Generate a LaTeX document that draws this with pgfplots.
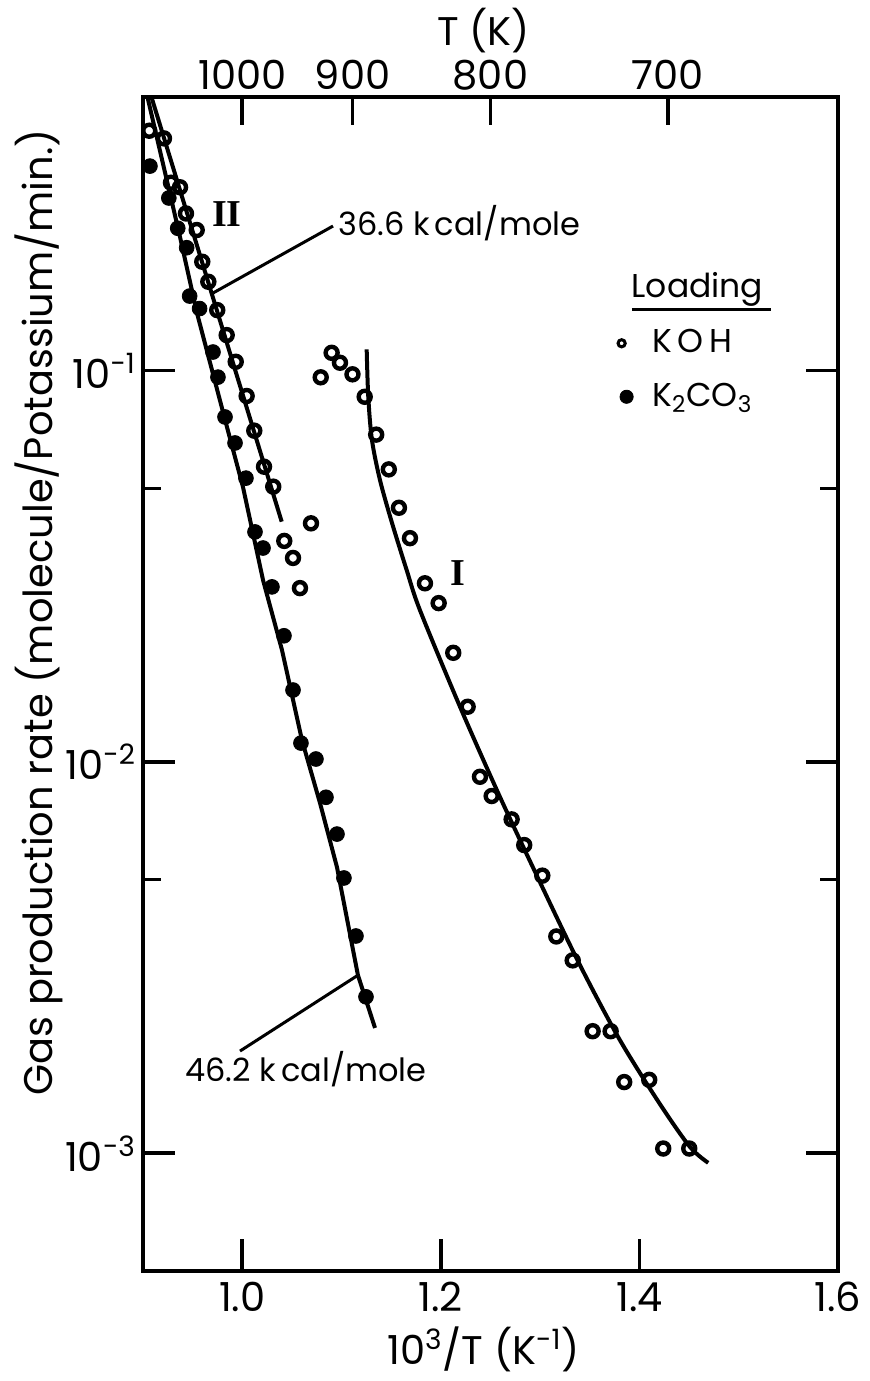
\documentclass[border=0pt]{standalone}
\usepackage{fontspec}
\setmainfont{Poppins}
\newfontfamily\seriffont{Liberation Serif}
\usepackage{pgfplots}
\pgfplotsset{compat=1.18}
\usetikzlibrary{calc}

\newcommand{\tickfont}{\fontsize{20}{23}\selectfont}
\newcommand{\labfont}{\fontsize{20}{24}\selectfont}
\newcommand{\annfont}{\fontsize{16}{19}\selectfont}
\newcommand{\legfont}{\fontsize{16.5}{19}\selectfont}

\begin{document}
\begin{tikzpicture}
\begin{axis}[
  scale only axis, width=347.5pt, height=587pt,
  xmin=0.9, xmax=1.6, ymode=log, ymin=5e-4, ymax=0.5,
  clip=false,
  axis line style={-, line width=2pt},
  xtick={1.0,1.2,1.4,1.6}, xticklabels={1.0,1.2,1.4,1.6},
  xtick pos=left,
  ytick={1e-3,1e-2,1e-1},
  yticklabels={10\textsuperscript{-3},10\textsuperscript{-2},10\textsuperscript{-1}},
  minor ytick={5e-3,5e-2},
  ytick pos=both,
  tick align=inside,
  major tick length=16pt, minor tick length=9pt,
  every tick/.append style={line width=1.8pt, black},
  tick label style={font=\tickfont},
  xticklabel style={yshift=-2pt},
]
\coordinate (ll) at (rel axis cs:0,0);
\coordinate (ur) at (rel axis cs:1,1);

% K2CO3 fitted line (46.2 kcal/mole)
\addplot[line width=2pt, black] coordinates {
(0.9045,0.5) (0.9373,0.2194) (0.9544,0.1402) (0.9846,0.0717) (1.0007,0.0504)
(1.0209,0.02915) (1.0400,0.01931) (1.0601,0.01137) (1.0783,0.00785)
(1.0954,0.00538) (1.1165,0.00285) (1.1337,0.00209)};

% KOH line II (36.6 kcal/mole)
\addplot[line width=2pt, black] coordinates {(0.9085,0.5) (1.0397,0.0411)};

% KOH line I
\addplot[line width=2pt, black, smooth] coordinates {
(1.1253,0.1133) (1.1269,0.0857) (1.1306,0.0665) (1.1387,0.0525) (1.1508,0.0408)
(1.1656,0.0309) (1.1790,0.0244) (1.2193,0.01383) (1.2596,0.00813) (1.2998,0.00493)
(1.3401,0.003026) (1.3804,0.001945) (1.4207,0.001335) (1.4509,0.001038) (1.4693,0.000945)};

% K2CO3 points
\addplot[only marks, mark=*, mark size=3.7pt, mark options={fill=black, draw=black}] coordinates {
(0.907,0.333) (0.926,0.276) (0.935,0.231) (0.944,0.206) (0.947,0.155) (0.957,0.144)
(0.9705,0.1115) (0.9755,0.0962) (0.9826,0.0761) (0.9927,0.0653) (1.0037,0.0531)
(1.0128,0.0387) (1.0209,0.0352) (1.0299,0.0280) (1.0420,0.0210) (1.0511,0.01526)
(1.0591,0.01117) (1.0742,0.01017) (1.0843,0.00812) (1.0954,0.00654) (1.1024,0.00505)
(1.1145,0.00359) (1.1246,0.00251)};

% KOH points
\addplot[only marks, mark=o, mark size=3pt, mark options={line width=2.2pt, draw=black, fill=white}] coordinates {
(0.9063,0.410) (0.9211,0.392) (0.9282,0.302) (0.9373,0.294) (0.9433,0.252) (0.9541,0.2286)
(0.9597,0.1897) (0.9658,0.1686) (0.9748,0.1427) (0.9843,0.1232) (0.9934,0.1053)
(1.0044,0.0861) (1.0121,0.0702) (1.0219,0.0568) (1.0312,0.0505) (1.0423,0.0367)
(1.0511,0.0332) (1.0581,0.0278) (1.0692,0.0407)
(1.0790,0.0961) (1.0900,0.1110) (1.0984,0.1047) (1.1110,0.0978) (1.1233,0.0857)
(1.1349,0.0686) (1.1476,0.0559) (1.1578,0.0446) (1.1689,0.0373) (1.1840,0.0286)
(1.1978,0.02545) (1.2125,0.0190) (1.2270,0.01383) (1.2394,0.00916) (1.2512,0.00818)
(1.2713,0.00713) (1.2840,0.00613) (1.3022,0.00512) (1.3163,0.00358) (1.3328,0.00311)
(1.3529,0.00205) (1.3710,0.00205) (1.3847,0.00152) (1.4099,0.00154) (1.4240,0.001028)
(1.4502,0.001028)};

% leader lines
\addplot[line width=1.5pt, black] coordinates {(1.0914,0.2340) (0.9705,0.1578)};
\addplot[line width=1.5pt, black] coordinates {(1.1165,0.00285) (0.9977,0.001824)};

% annotations
\node[font=\annfont, anchor=base west, inner sep=0pt] at (axis cs:1.0964,0.2220) {36.6 k\,cal/mole};
\node[font=\annfont, anchor=base west, inner sep=0pt] at (axis cs:0.9423,0.001528) {46.2 k\,cal/mole};
\node[font=\fontsize{19}{22}\selectfont\seriffont\bfseries] at (axis cs:0.9846,0.2512) {II};
\node[font=\fontsize{19}{22}\selectfont\seriffont\bfseries] at (axis cs:1.2172,0.03037) {I};

% legend
\node[font=\legfont, anchor=base, inner sep=0pt] at (axis cs:1.4585,0.1541) {Loading};
\addplot[line width=1.5pt, black] coordinates {(1.3925,0.1436) (1.5325,0.1436)};
\addplot[only marks, mark=o, mark size=1.8pt, mark options={line width=1.5pt, draw=black}] coordinates {(1.3821,0.1174)};
\node[font=\legfont, anchor=base west, inner sep=0pt] at (axis cs:1.4126,0.1115) {K\,O\,H};
\addplot[only marks, mark=*, mark size=3.3pt, mark options={fill=black, draw=black}] coordinates {(1.3871,0.0857)};
\node[font=\legfont, anchor=base west, inner sep=0pt] at (axis cs:1.4126,0.0807) {K\textsubscript{2}CO\textsubscript{3}};

% axis labels
\node[font=\labfont, rotate=90] at (axis description cs:-0.150,0.561) {Gas production rate (molecule/Potassium/min.)};
\node[font=\labfont] at (axis description cs:0.490,-0.067) {10\textsuperscript{3}/T (K\textsuperscript{-1})};
\node[font=\labfont] at (axis description cs:0.490,1.057) {T (K)};
\end{axis}

\begin{axis}[
  scale only axis, width=347.5pt, height=587pt,
  xmin=0.9, xmax=1.6, ymin=0, ymax=1,
  axis x line*=top, axis y line=none,
  axis line style={-, line width=2pt},
  xtick={1,1.111111,1.25,1.428571}, xticklabels={1000,900,800,700},
  tick align=inside, major tick length=14pt,
  every tick/.append style={line width=1.8pt, black},
  tick label style={font=\tickfont},
]
\end{axis}

\pgfresetboundingbox
\path[use as bounding box] ($(ll)+(-71.5pt,-55pt)$) rectangle ($(ur)+(16pt,48.5pt)$);
\end{tikzpicture}
\end{document}
